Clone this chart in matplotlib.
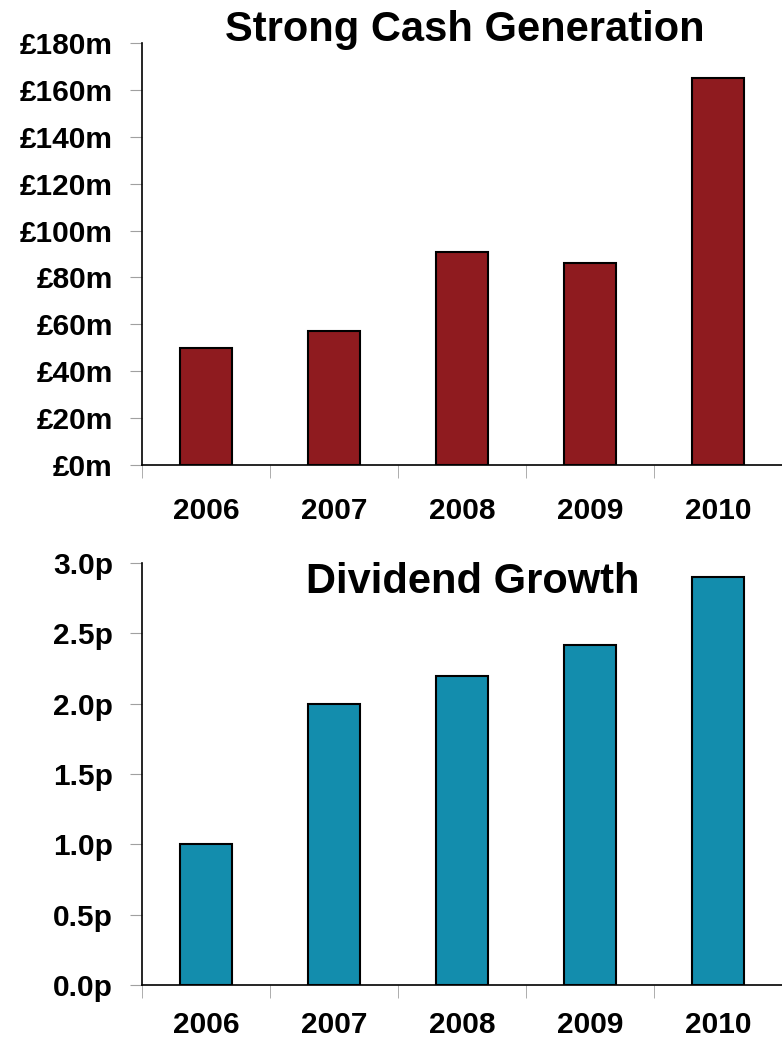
import matplotlib
matplotlib.use("Agg")
import matplotlib.pyplot as plt
from matplotlib.ticker import FixedLocator

years = ["2006", "2007", "2008", "2009", "2010"]
cash_values = [50, 57, 91, 86, 165]          # £m
dividend_values = [1.0, 2.0, 2.2, 2.42, 2.9]  # pence
cash_ticks = [0, 20, 40, 60, 80, 100, 120, 140, 160, 180]
cash_tick_labels = [f"£{v}m" for v in cash_ticks]
div_ticks = [0.0, 0.5, 1.0, 1.5, 2.0, 2.5, 3.0]
div_tick_labels = [f"{v:.1f}p" for v in div_ticks]

plt.rcParams['font.family'] = ['Liberation Sans', 'DejaVu Sans']
plt.rcParams['font.weight'] = 'bold'

fig = plt.figure(figsize=(7.82, 10.42), dpi=100)
ax1 = fig.add_axes([0.1816, 0.5537, 0.8184, 0.405])
ax2 = fig.add_axes([0.1816, 0.0547, 0.8184, 0.405])

def style(ax, values, color, ticks, labels, ymax, xpad):
    x = list(range(len(years)))
    ax.bar(x, values, width=0.4, color=color, edgecolor='black', linewidth=1.5, zorder=3)
    ax.set_xlim(-0.5, len(years) - 0.5)
    ax.set_ylim(0, ymax)
    ax.set_xticks(x)
    ax.set_xticklabels(years, fontsize=21.5, fontweight='bold')
    ax.xaxis.set_minor_locator(FixedLocator([i - 0.5 for i in range(len(years) + 1)]))
    ax.tick_params(axis='x', which='major', length=0, pad=xpad)
    ax.tick_params(axis='x', which='minor', length=9, color='#A0A0A0', direction='out')
    ax.set_yticks(ticks)
    ax.set_yticklabels(labels, fontsize=21.5, fontweight='bold')
    ax.tick_params(axis='y', length=9, color='#A0A0A0', direction='out', pad=12)
    for s in ('top', 'right'):
        ax.spines[s].set_visible(False)
    for s in ('left', 'bottom'):
        ax.spines[s].set_color('black')
        ax.spines[s].set_linewidth(1.2)

style(ax1, cash_values, '#8F1B1F', cash_ticks, cash_tick_labels, 180, 23)
style(ax2, dividend_values, '#138DAD', div_ticks, div_tick_labels, 3.0, 19)

fig.text(0.595, 0.971, "Strong Cash Generation", ha='center', va='center',
         fontsize=30, fontweight='bold')
fig.text(0.604, 0.441, "Dividend Growth", ha='center', va='center',
         fontsize=30, fontweight='bold')

fig.savefig("out.png", dpi=100)
